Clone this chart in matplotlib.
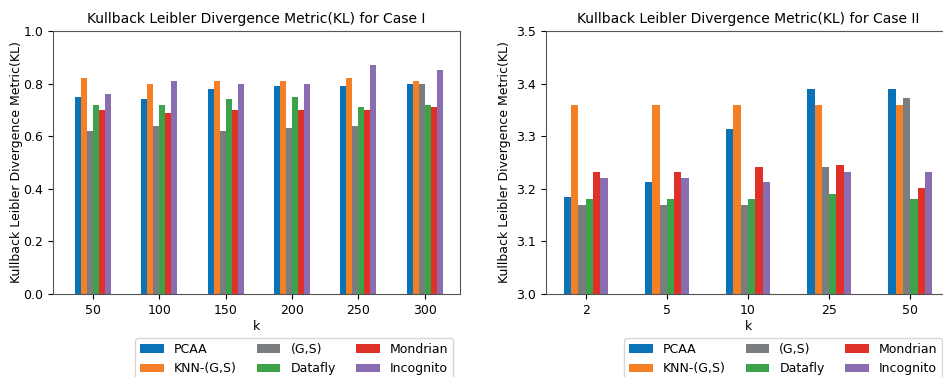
import matplotlib
matplotlib.use("Agg")
import matplotlib.pyplot as plt
import numpy as np

series = ["PCAA", "KNN-(G,S)", "(G,S)", "Datafly", "Mondrian", "Incognito"]
colors = ["#0a73b8", "#f57f25", "#7a7d80", "#3da34a", "#e03128", "#8a6db0"]

k1 = ["50", "100", "150", "200", "250", "300"]
case1_pcaa = [0.75, 0.74, 0.78, 0.79, 0.79, 0.80]
case1_knn = [0.82, 0.80, 0.81, 0.81, 0.82, 0.81]
case1_gs = [0.62, 0.64, 0.62, 0.63, 0.64, 0.80]
case1_datafly = [0.72, 0.72, 0.74, 0.75, 0.71, 0.72]
case1_mondrian = [0.70, 0.69, 0.70, 0.70, 0.70, 0.71]
case1_incognito = [0.76, 0.81, 0.80, 0.80, 0.87, 0.85]

k2 = ["2", "5", "10", "25", "50"]
case2_pcaa = [3.184, 3.213, 3.313, 3.389, 3.389]
case2_knn = [3.36, 3.36, 3.36, 3.36, 3.36]
case2_gs = [3.17, 3.17, 3.17, 3.241, 3.372]
case2_datafly = [3.181, 3.18, 3.18, 3.19, 3.18]
case2_mondrian = [3.232, 3.232, 3.241, 3.246, 3.202]
case2_incognito = [3.221, 3.221, 3.212, 3.232, 3.232]

case1 = [case1_pcaa, case1_knn, case1_gs, case1_datafly, case1_mondrian, case1_incognito]
case2 = [case2_pcaa, case2_knn, case2_gs, case2_datafly, case2_mondrian, case2_incognito]

W, H = 943, 377
fig = plt.figure(figsize=(W / 100, H / 100), dpi=100)
plt.rcParams['font.family'] = ['DejaVu Sans']

def px(l, t, r, b):
    return [l / W, 1 - b / H, (r - l) / W, (b - t) / H]

ax1 = fig.add_axes(px(53, 31, 460, 294))
ax2 = fig.add_axes(px(546, 31, 950, 294))

bw = 0.09
fs = 9

def draw(ax, cats, data, ylim, yticks, title, xlim, legend_x, ylpad):
    x = np.arange(len(cats))
    handles = []
    for i, (vals, c, name) in enumerate(zip(data, colors, series)):
        off = (i - (len(series) - 1) / 2) * bw
        h = ax.bar(x + off, vals, width=bw, color=c, label=name)
        handles.append(h)
    ax.set_xticks(x)
    ax.set_xticklabels(cats, fontsize=fs)
    ax.set_ylim(*ylim)
    ax.set_yticks(yticks)
    ax.set_yticklabels([f"{v:.1f}" for v in yticks], fontsize=fs)
    ax.set_xlim(*xlim)
    ax.set_xlabel("k", fontsize=fs, labelpad=2)
    ax.set_ylabel("Kullback Leibler Divergence Metric(KL)", fontsize=fs, labelpad=ylpad)
    ax.set_title(title, fontsize=10, pad=6)
    for s in ax.spines.values():
        s.set_color("#555555")
    fig.legend(handles=handles, labels=series, ncol=3, loc="upper center",
               bbox_to_anchor=(legend_x / W, 1 - 338 / H), fontsize=fs,
               frameon=True, columnspacing=1.6, handlelength=1.9,
               handletextpad=0.8, borderaxespad=0.0)

draw(ax1, k1, case1, (0.0, 1.0), [0.0, 0.2, 0.4, 0.6, 0.8, 1.0],
     "Kullback Leibler Divergence Metric(KL) for Case I", (-0.6, 5.53), 294, 0.5)
draw(ax2, k2, case2, (3.0, 3.5), [3.0, 3.1, 3.2, 3.3, 3.4, 3.5],
     "Kullback Leibler Divergence Metric(KL) for Case II", (-0.49, 4.49), 783, 4)

fig.savefig("out.png", dpi=100)
